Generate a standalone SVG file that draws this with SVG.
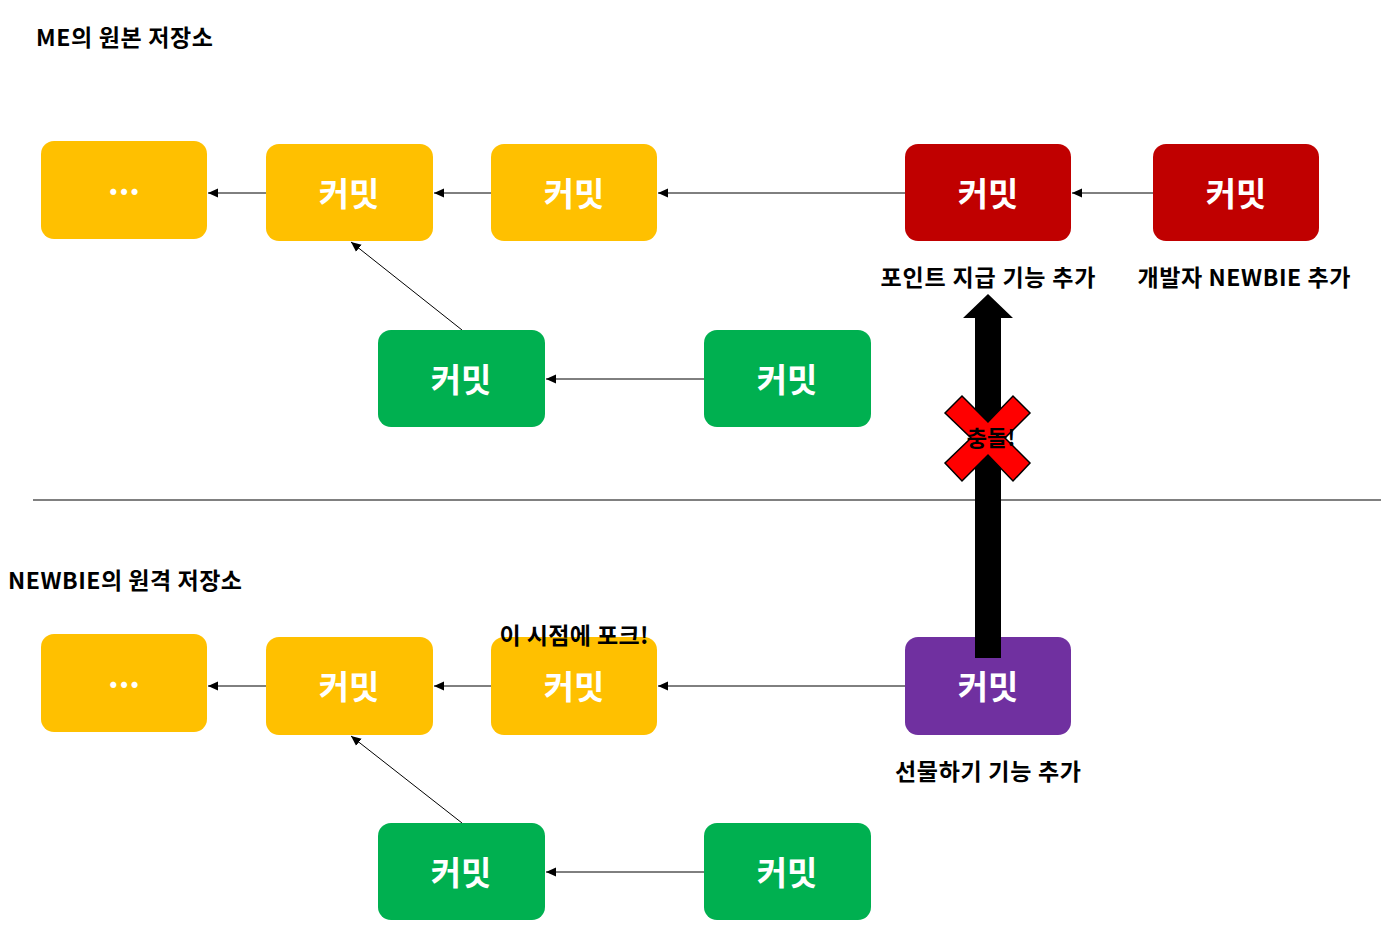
<svg xmlns="http://www.w3.org/2000/svg" width="1398" height="945" viewBox="0 0 1398 945">
<style>
.t{font-family:"Noto Sans CJK KR","Noto Sans",sans-serif;font-weight:bold}
.bx text{font-family:"Noto Sans CJK KR","Noto Sans",sans-serif;font-weight:bold;fill:#fff;font-size:33px;text-anchor:middle;dominant-baseline:central}
.y rect{fill:#FFC000}
.g rect{fill:#00B050}
.r rect{fill:#C00000}
.p rect{fill:#7030A0}
.lbl{font-size:23px;fill:#000;text-anchor:middle}
.c line{stroke:#000;stroke-width:1;marker-end:url(#ah)}
</style>
<defs>
<marker id="ah" viewBox="0 0 10 10" refX="10" refY="5" markerWidth="10" markerHeight="10" markerUnits="userSpaceOnUse" orient="auto">
<path d="M0,0.5 L10,5 L0,9.5 Z" fill="#000"/>
</marker>
</defs>
<rect width="1398" height="945" fill="#fff"/>
<text class="t" x="36" y="46" font-size="23" textLength="177">ME의 원본 저장소</text>
<text class="t" x="8" y="589" font-size="23" textLength="234">NEWBIE의 원격 저장소</text>
<line x1="33" y1="500" x2="1381" y2="500" stroke="#808080" stroke-width="2"/>
<g class="c" id="connectors">
<line x1="266" y1="193" x2="208" y2="193"/>
<line x1="491" y1="193" x2="434" y2="193"/>
<line x1="905" y1="193" x2="658" y2="193"/>
<line x1="1153" y1="193" x2="1072" y2="193"/>
<line x1="704" y1="379" x2="546" y2="379"/>
<line x1="462" y1="330" x2="351" y2="242"/>
<line x1="266" y1="686" x2="208" y2="686"/>
<line x1="491" y1="686" x2="434" y2="686"/>
<line x1="905" y1="686" x2="658" y2="686"/>
<line x1="704" y1="872" x2="546" y2="872"/>
<line x1="462" y1="823" x2="351" y2="736"/>
</g>
<g class="bx y" id="n1"><rect x="41" y="141" width="166" height="98" rx="13"/><text x="124" y="181" font-size="28">...</text></g>
<g class="bx y" id="n2"><rect x="266" y="144" width="167" height="97" rx="13"/><text x="349" y="192">커밋</text></g>
<g class="bx y" id="n3"><rect x="491" y="144" width="166" height="97" rx="13"/><text x="574" y="192">커밋</text></g>
<g class="bx r" id="n4"><rect x="905" y="144" width="166" height="97" rx="13"/><text x="988" y="192">커밋</text></g>
<g class="bx r" id="n5"><rect x="1153" y="144" width="166" height="97" rx="13"/><text x="1236" y="192">커밋</text></g>
<g class="bx g" id="n6"><rect x="378" y="330" width="167" height="97" rx="13"/><text x="461" y="378">커밋</text></g>
<g class="bx g" id="n7"><rect x="704" y="330" width="167" height="97" rx="13"/><text x="787" y="378">커밋</text></g>
<g class="bx y" id="m1"><rect x="41" y="634" width="166" height="98" rx="13"/><text x="124" y="674" font-size="28">...</text></g>
<g class="bx y" id="m2"><rect x="266" y="637" width="167" height="98" rx="13"/><text x="349" y="685">커밋</text></g>
<g class="bx y" id="m3"><rect x="491" y="637" width="166" height="98" rx="13"/><text x="574" y="685">커밋</text></g>
<g class="bx p" id="m4"><rect x="905" y="637" width="166" height="98" rx="13"/><text x="988" y="685">커밋</text></g>
<g class="bx g" id="m5"><rect x="378" y="823" width="167" height="97" rx="13"/><text x="461" y="871">커밋</text></g>
<g class="bx g" id="m6"><rect x="704" y="823" width="167" height="97" rx="13"/><text x="787" y="871">커밋</text></g>
<text class="t lbl" x="988" y="286" textLength="215">포인트 지급 기능 추가</text>
<text class="t lbl" x="1244" y="286" textLength="213">개발자 NEWBIE 추가</text>
<text class="t lbl" x="988" y="780" textLength="186">선물하기 기능 추가</text>
<text class="t lbl" x="574" y="644" textLength="149">이 시점에 포크!</text>
<g id="bigarrow">
<path d="M975,658 L975,318 L963,318 L988,294 L1013,318 L1001,318 L1001,658 Z" fill="#000"/>
</g>
<g id="conflict">
<polygon points="945,413 962,396 988,422 1013,396 1030,413 1005,438 1030,463 1013,481 988,455 962,481 945,463 971,438" fill="#FF0000" stroke="#000" stroke-width="1.5"/>
<text class="t" x="991" y="446" font-size="22" text-anchor="middle" fill="#000">충돌!</text>
</g>
</svg>
